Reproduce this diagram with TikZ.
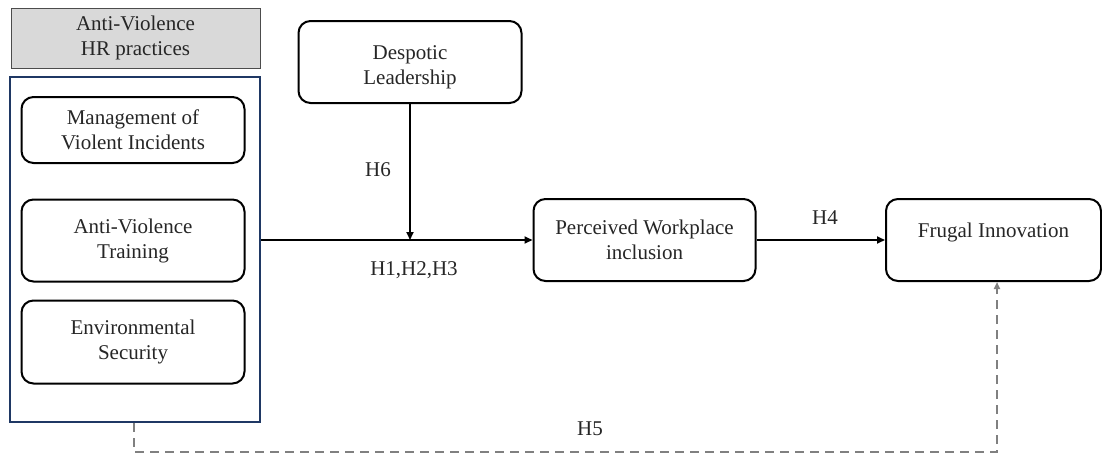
\documentclass[tikz,border=0pt]{standalone}
\usepackage{fontspec}
\setmainfont{Liberation Serif}
\newfontfamily\tnr{Liberation Serif}
\usetikzlibrary{arrows.meta}
\definecolor{navy}{HTML}{1F3864}
\definecolor{hdrgray}{HTML}{D9D9D9}
\definecolor{dashgray}{HTML}{808080}
\tikzset{
  txt/.style={font=\tnr\fontsize{21}{25}\selectfont, text=black!85, align=center},
  rbox/.style={draw=black, line width=2pt, rounded corners=12pt, inner sep=0pt},
  conn/.style={line width=1.7pt, -{Triangle[length=8pt,width=7pt]}},
  dconn/.style={draw=dashgray, line width=2pt, dash pattern=on 9pt off 6pt, -{Triangle[length=7pt,width=6pt]}},
  hyp/.style={txt}
}
\begin{document}
\begin{tikzpicture}[x=1pt,y=-1pt]
\useasboundingbox (0,0) rectangle (1102,455);
% header
\node[draw=black!70, fill=hdrgray, line width=1pt, minimum width=249pt, minimum height=60pt, inner sep=0pt, txt] (hdr) at (135.5,38) {Anti-Violence\\HR practices};
% outer group box
\node[draw=navy, line width=2pt, minimum width=250pt, minimum height=345pt, inner sep=0pt] (grp) at (135,249.5) {};
% inner boxes
\node[rbox, minimum width=223pt, minimum height=66pt, txt] (mvi) at (133,130) {Management of\\Violent Incidents};
\node[rbox, minimum width=223pt, minimum height=82pt, txt] (avt) at (133,240.5) {Anti-Violence\\Training};
\node[rbox, minimum width=223pt, minimum height=83pt, txt] (env) at (133,342) {Environmental\\Security};
% despotic
\node[rbox, minimum width=223pt, minimum height=82pt, label={[txt, yshift=-5pt]center:Despotic\\Leadership}] (dl) at (410,62) {};
% perceived
\node[rbox, minimum width=222pt, minimum height=82pt, txt] (pwi) at (644.5,240) {Perceived Workplace\\inclusion};
% frugal
\node[rbox, minimum width=215pt, minimum height=82pt, label={[txt, yshift=8pt]center:Frugal Innovation}] (fi) at (993.5,240) {};
% connectors
\coordinate (mod) at (410,240);
\draw[conn] (grp.east |- pwi.west) -- (pwi.west);
\draw[conn] (dl.south) -- (mod);
\draw[conn] (pwi.east) -- (fi.west);
\coordinate (d1) at (134,452);
\coordinate (d2) at (997,452);
\draw[dconn] (grp.south -| d1) -- (d1) -- (d2) -- (fi.south -| d2);
% labels
\node[hyp] (h6) at (378,170) {H6};
\node[hyp] (h123) at (414,270) {H1,H2,H3};
\node[hyp] (h4) at (825,218) {H4};
\node[hyp] (h5) at (590,429) {H5};
\end{tikzpicture}
\end{document}
